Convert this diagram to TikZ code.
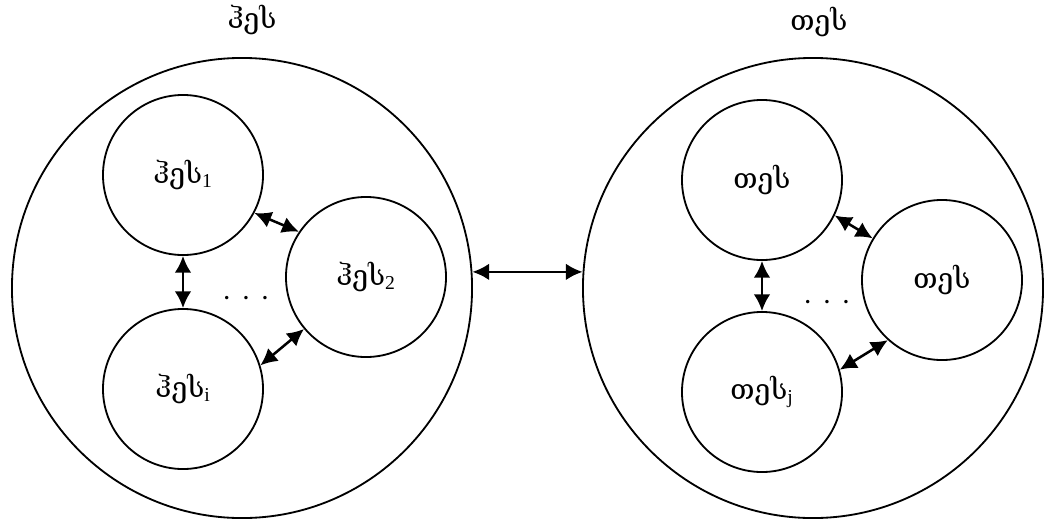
\documentclass[tikz,border=0pt]{standalone}
\usepackage{fontspec}
\setmainfont{DejaVu Serif}
\newfontfamily\subfont{Liberation Serif}
\usetikzlibrary{arrows.meta}

\tikzset{
  bigset/.style={circle, draw, line width=1.3pt, minimum size=11.5cm, inner sep=0pt},
  subset/.style={circle, draw, line width=1.3pt, minimum size=4cm, inner sep=0pt},
  setname/.style={font=\fontsize{20}{24}\selectfont},
  gap/.style={font=\fontsize{13}{15}\selectfont\bfseries},
  link/.style={{Latex[length=4.2mm,width=4.2mm]}-{Latex[length=4.2mm,width=4.2mm]}, line width=1.8pt},
}
\newcommand{\idx}[1]{\textsubscript{\subfont #1}}
\newcommand{\gapdots}{.\hspace{3.2mm}.\hspace{3.2mm}.}

\begin{document}
\begin{tikzpicture}[x=0.025cm, y=-0.025cm]
  \useasboundingbox (0,0) rectangle (1045,521);
  % outer sets
  \node[bigset] (H) at (242,288) {};
  \node[bigset] (T) at (813,288) {};
  \node[setname] (Hname) at (252,20) {ჰეს};
  \node[setname] (Tname) at (819,22) {თეს};
  % left group
  \node[subset, setname] (h1) at (183,175) {ჰეს\idx{1}};
  \node[subset, setname] (h2) at (366,277) {ჰეს\idx{2}};
  \node[subset, setname] (hi) at (183,389) {ჰეს\idx{i}};
  \node[gap] (hdots) at (246,298) {\gapdots};
  % right group
  \node[subset, setname] (t1) at (762,180) {თეს};
  \node[subset, setname] (t2) at (942,280) {თეს};
  \node[subset, setname] (tj) at (762,392) {თეს\idx{j}};
  \node[gap] (tdots) at (827,302) {\gapdots};
  % links
  \draw[link] (h1.south) -- (hi.north);
  \draw[link] (h1.-28) -- (h2.146);
  \draw[link] (hi.17) -- (h2.220);
  \draw[link] (t1.south) -- (tj.north);
  \draw[link] (t1.-26) -- (t2.149);
  \draw[link] (tj.16) -- (t2.228);
  \draw[link] (H.4) -- (T.176);
\end{tikzpicture}
\end{document}
